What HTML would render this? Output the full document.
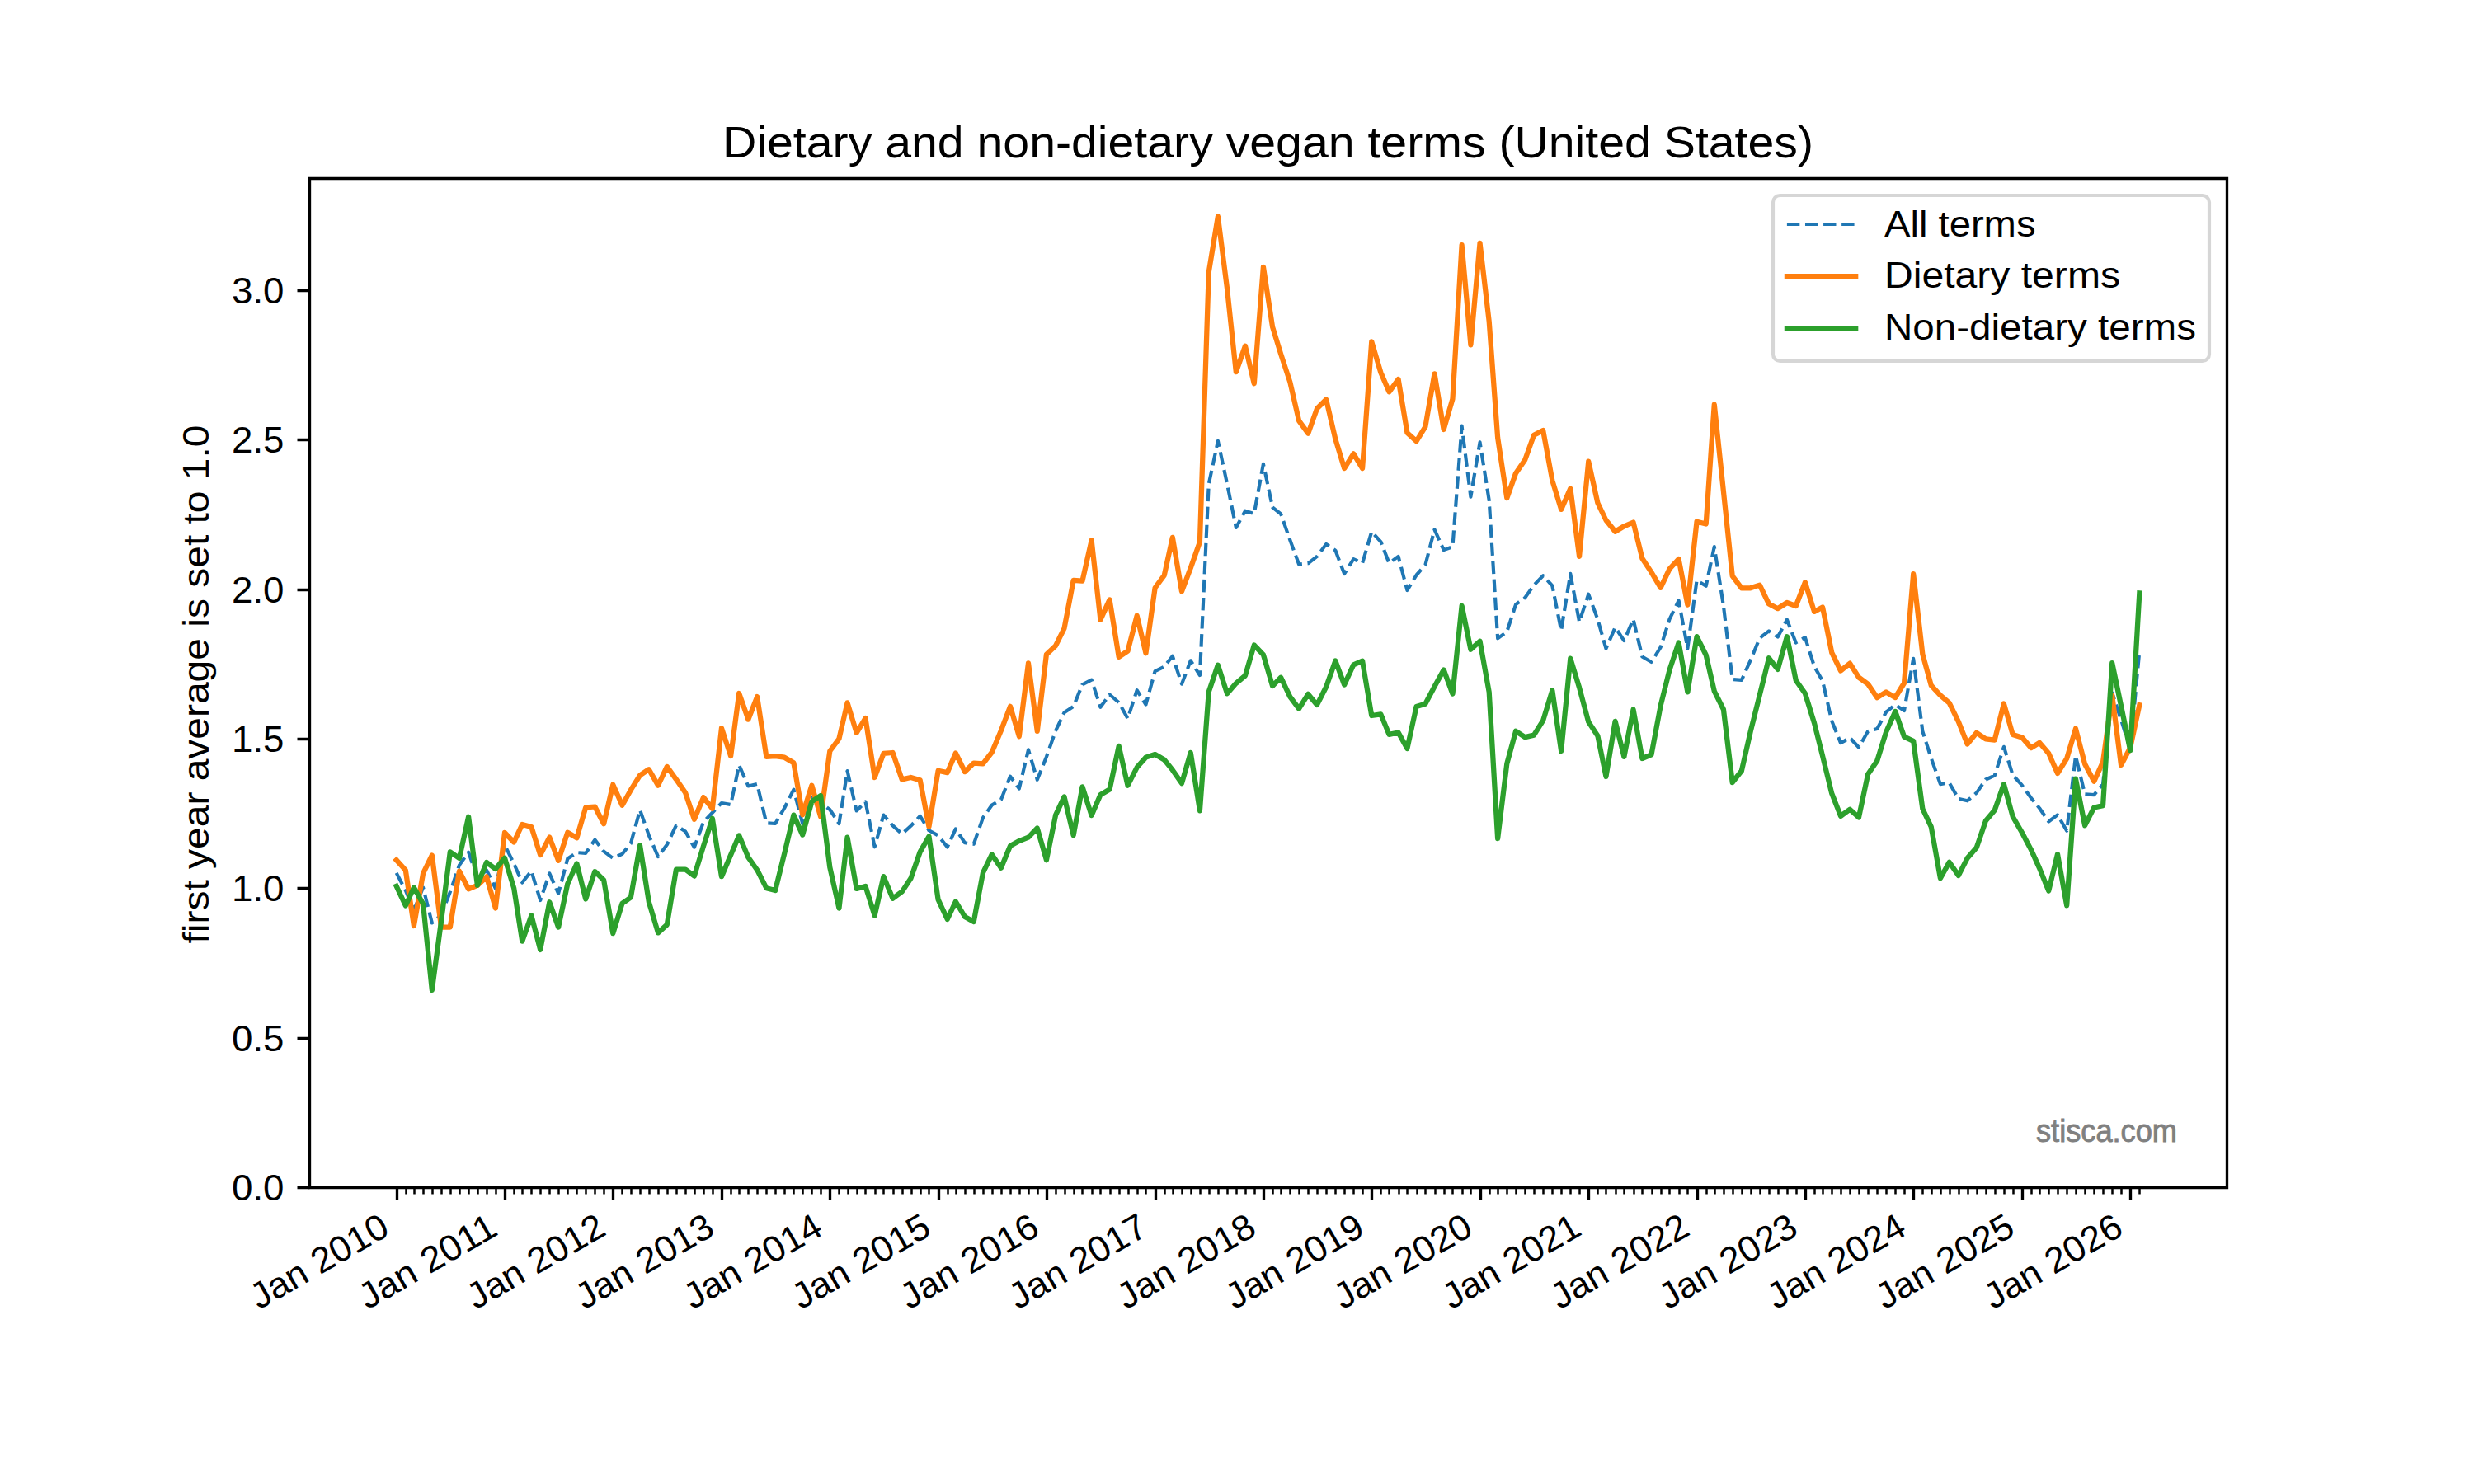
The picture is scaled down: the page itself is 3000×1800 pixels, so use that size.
<!DOCTYPE html>
<html><head><meta charset="utf-8"><title>Dietary and non-dietary vegan terms (United States)</title>
<style>html,body{margin:0;padding:0;background:#fff;}svg{display:block;}text{font-family:"Liberation Sans", sans-serif;}</style></head><body>
<svg width="3000" height="1800" viewBox="0 0 3000 1800">
<rect x="0" y="0" width="3000" height="1800" fill="#fff"/>
<g fill="none" stroke-linejoin="round">
<polyline points="480.68,1058.90 491.83,1080.00 501.91,1104.00 513.06,1076.50 523.85,1119.50 535.01,1110.00 545.80,1082.00 556.95,1049.40 568.11,1033.60 578.90,1065.00 590.05,1055.50 600.84,1077.50 612.00,1025.00 623.15,1047.50 633.22,1070.50 644.38,1056.40 655.17,1092.00 666.32,1059.30 677.12,1083.80 688.27,1041.60 699.42,1034.10 710.21,1034.90 721.37,1018.60 732.16,1032.70 743.31,1041.00 754.47,1035.90 764.90,1023.00 776.05,982.50 786.84,1013.20 798.00,1039.10 808.79,1024.60 819.94,1001.10 831.10,1008.40 841.89,1027.80 853.04,997.10 863.83,985.70 874.99,974.00 886.14,976.00 896.21,928.00 907.37,953.50 918.16,951.00 929.31,998.30 940.11,999.00 951.26,980.00 962.41,957.60 973.20,999.00 984.36,967.00 995.15,974.00 1006.30,982.00 1017.46,999.00 1027.53,935.00 1038.68,983.50 1049.47,972.40 1060.63,1027.30 1071.42,988.60 1082.57,1001.40 1093.73,1011.50 1104.52,1001.80 1115.67,989.80 1126.47,1007.30 1137.62,1013.50 1148.77,1027.50 1158.84,1005.40 1170.00,1022.30 1180.79,1023.80 1191.94,991.90 1202.74,976.50 1213.89,970.00 1225.04,941.60 1235.83,956.50 1246.99,909.40 1257.78,945.80 1268.93,918.00 1280.09,886.30 1290.52,864.30 1301.67,857.00 1312.47,830.30 1323.62,824.60 1334.41,857.80 1345.56,842.50 1356.72,852.00 1367.51,871.60 1378.66,837.20 1389.46,854.60 1400.61,814.00 1411.76,808.60 1421.83,795.70 1432.99,829.70 1443.78,801.30 1454.93,819.10 1465.73,587.40 1476.88,534.80 1488.03,586.90 1498.82,639.90 1509.98,619.70 1520.77,623.00 1531.92,562.70 1543.08,615.30 1553.15,623.40 1564.30,655.00 1575.10,684.50 1586.25,683.30 1597.04,674.90 1608.19,659.90 1619.35,667.60 1630.14,696.00 1641.29,678.10 1652.09,683.00 1663.24,645.00 1674.39,657.10 1684.47,683.00 1695.62,674.90 1706.41,716.00 1717.56,697.50 1728.36,685.30 1739.51,642.30 1750.66,667.10 1761.46,663.10 1772.61,516.70 1783.40,602.70 1794.55,536.40 1805.71,606.90 1816.14,774.40 1827.29,766.30 1838.09,733.10 1849.24,725.00 1860.03,709.70 1871.18,698.30 1882.34,710.50 1893.13,764.70 1904.28,695.90 1915.08,754.30 1926.23,720.70 1937.38,751.20 1947.46,786.80 1958.61,760.90 1969.40,777.10 1980.55,751.20 1991.35,796.50 2002.50,803.00 2013.65,785.20 2024.45,751.20 2035.60,728.50 2046.39,786.50 2057.54,704.00 2068.70,710.80 2078.77,663.10 2089.92,735.00 2100.72,824.10 2111.87,824.90 2122.66,801.00 2133.82,773.90 2144.97,765.40 2155.76,772.60 2166.91,751.60 2177.71,779.50 2188.86,773.10 2200.01,808.20 2210.09,826.00 2221.24,874.50 2232.03,901.20 2243.18,894.80 2253.98,906.50 2265.13,887.00 2276.28,883.90 2287.08,863.70 2298.23,854.80 2309.02,862.10 2320.18,798.90 2331.33,887.00 2341.76,919.60 2352.91,951.10 2363.71,949.50 2374.86,968.90 2385.65,971.30 2396.81,961.60 2407.96,945.50 2418.75,940.60 2429.90,905.80 2440.70,940.00 2451.85,952.40 2463.00,968.00 2473.08,980.30 2484.23,996.50 2495.02,988.40 2506.18,1007.80 2516.97,917.00 2528.12,963.30 2539.27,964.10 2550.07,951.20 2561.22,840.20 2572.01,873.00 2583.17,908.30 2594.32,790.00" stroke="#1f77b4" stroke-width="4.1667" stroke-dasharray="15.417 6.667" stroke-linecap="butt"/>
<polyline points="480.68,1043.20 491.83,1055.50 501.91,1123.00 513.06,1059.40 523.85,1037.50 535.01,1124.50 545.80,1124.50 556.95,1056.60 568.11,1078.30 578.90,1073.90 590.05,1063.40 600.84,1101.50 612.00,1010.00 623.15,1021.50 633.22,1000.00 644.38,1003.00 655.17,1037.10 666.32,1015.60 677.12,1043.80 688.27,1009.70 699.42,1016.30 710.21,979.30 721.37,978.50 732.16,999.30 743.31,951.80 754.47,976.80 764.90,958.20 776.05,940.40 786.84,933.20 798.00,952.60 808.79,929.90 819.94,945.30 831.10,961.50 841.89,993.80 853.04,967.10 863.83,980.90 874.99,883.10 886.14,917.10 896.21,841.00 907.37,872.60 918.16,845.10 929.31,917.90 940.11,917.10 951.26,918.70 962.41,925.20 973.20,988.30 984.36,952.70 995.15,990.70 1006.30,911.00 1017.46,896.00 1027.53,852.40 1038.68,888.80 1049.47,871.00 1060.63,943.00 1071.42,913.80 1082.57,913.00 1093.73,945.40 1104.52,943.00 1115.67,946.20 1126.47,1002.80 1137.62,934.70 1148.77,937.10 1158.84,913.50 1170.00,936.10 1180.79,925.60 1191.94,926.40 1202.74,912.50 1213.89,886.10 1225.04,856.80 1235.83,893.20 1246.99,804.30 1257.78,886.80 1268.93,793.70 1280.09,783.20 1290.52,762.10 1301.67,703.90 1312.47,704.70 1323.62,655.40 1334.41,751.60 1345.56,727.40 1356.72,796.90 1367.51,789.70 1378.66,746.80 1389.46,792.30 1400.61,713.00 1411.76,697.90 1421.83,651.80 1432.99,717.30 1443.78,688.90 1454.93,657.40 1465.73,330.60 1476.88,262.60 1488.03,350.00 1498.82,451.10 1509.98,419.60 1520.77,465.30 1531.92,323.80 1543.08,396.60 1553.15,429.40 1564.30,463.40 1575.10,510.30 1586.25,525.70 1597.04,495.50 1608.19,484.60 1619.35,532.70 1630.14,568.10 1641.29,550.30 1652.09,568.10 1663.24,414.40 1674.39,452.00 1684.47,475.30 1695.62,460.00 1706.41,525.00 1717.56,535.10 1728.36,517.70 1739.51,453.30 1750.66,521.00 1761.46,483.80 1772.61,297.20 1783.40,418.30 1794.55,294.80 1805.71,390.00 1816.14,531.00 1827.29,604.10 1838.09,573.90 1849.24,557.70 1860.03,527.80 1871.18,522.10 1882.34,582.80 1893.13,617.90 1904.28,592.50 1915.08,674.80 1926.23,559.70 1937.38,610.00 1947.46,631.00 1958.61,644.80 1969.40,638.30 1980.55,633.50 1991.35,677.20 2002.50,694.10 2013.65,712.80 2024.45,690.10 2035.60,678.00 2046.39,733.60 2057.54,632.70 2068.70,635.50 2078.77,490.70 2089.92,596.00 2100.72,698.70 2111.87,713.30 2122.66,713.30 2133.82,709.60 2144.97,732.60 2155.76,738.20 2166.91,731.00 2177.71,735.00 2188.86,706.30 2200.01,741.90 2210.09,736.60 2221.24,791.60 2232.03,813.50 2243.18,804.60 2253.98,821.60 2265.13,829.70 2276.28,846.20 2287.08,839.40 2298.23,846.00 2309.02,828.50 2320.18,696.20 2331.33,793.30 2341.76,831.30 2352.91,843.40 2363.71,852.70 2374.86,875.40 2385.65,902.50 2396.81,888.70 2407.96,896.40 2418.75,897.60 2429.90,853.50 2440.70,891.00 2451.85,894.40 2463.00,907.10 2473.08,900.80 2484.23,913.70 2495.02,938.00 2506.18,920.20 2516.97,883.80 2528.12,926.70 2539.27,947.80 2550.07,924.10 2561.22,843.70 2572.01,928.00 2583.17,907.00 2594.32,855.10" stroke="#ff7f0e" stroke-width="6.25" stroke-linecap="square"/>
<polyline points="480.68,1074.80 491.83,1098.50 501.91,1076.50 513.06,1096.20 523.85,1200.90 535.01,1117.40 545.80,1033.30 556.95,1041.00 568.11,990.70 578.90,1073.90 590.05,1045.90 600.84,1054.00 612.00,1040.70 623.15,1077.10 633.22,1141.60 644.38,1110.50 655.17,1152.00 666.32,1094.20 677.12,1124.60 688.27,1072.00 699.42,1047.50 710.21,1090.50 721.37,1057.10 732.16,1067.50 743.31,1132.10 754.47,1095.80 764.90,1088.50 776.05,1025.40 786.84,1094.10 798.00,1131.40 808.79,1121.60 819.94,1054.50 831.10,1054.50 841.89,1062.60 853.04,1026.20 863.83,992.80 874.99,1063.20 886.14,1037.00 896.21,1013.40 907.37,1040.00 918.16,1055.20 929.31,1077.20 940.11,1080.10 951.26,1035.00 962.41,988.60 973.20,1012.60 984.36,972.40 995.15,965.00 1006.30,1052.00 1017.46,1101.60 1027.53,1015.70 1038.68,1077.90 1049.47,1074.90 1060.63,1110.50 1071.42,1063.10 1082.57,1089.80 1093.73,1081.60 1104.52,1065.30 1115.67,1033.40 1126.47,1014.50 1137.62,1091.20 1148.77,1115.00 1158.84,1093.50 1170.00,1112.00 1180.79,1117.90 1191.94,1058.60 1202.74,1036.40 1213.89,1052.70 1225.04,1026.00 1235.83,1020.10 1246.99,1015.60 1257.78,1004.50 1268.93,1043.20 1280.09,988.60 1290.52,966.40 1301.67,1013.30 1312.47,954.30 1323.62,989.10 1334.41,964.00 1345.56,957.50 1356.72,904.90 1367.51,952.70 1378.66,930.80 1389.46,918.60 1400.61,915.00 1411.76,921.50 1421.83,933.90 1432.99,950.10 1443.78,912.90 1454.93,983.30 1465.73,839.30 1476.88,806.60 1488.03,841.30 1498.82,828.80 1509.98,819.50 1520.77,782.50 1531.92,794.10 1543.08,832.10 1553.15,821.70 1564.30,845.20 1575.10,859.70 1586.25,841.90 1597.04,854.90 1608.19,833.00 1619.35,801.50 1630.14,830.60 1641.29,806.30 1652.09,801.70 1663.24,868.00 1674.39,866.40 1684.47,890.90 1695.62,888.50 1706.41,907.90 1717.56,856.90 1728.36,853.70 1739.51,832.70 1750.66,812.40 1761.46,841.60 1772.61,734.80 1783.40,787.80 1794.55,777.70 1805.71,839.50 1816.14,1017.00 1827.29,926.40 1838.09,886.80 1849.24,894.10 1860.03,891.60 1871.18,873.80 1882.34,837.40 1893.13,911.00 1904.28,798.60 1915.08,834.00 1926.23,875.60 1937.38,892.50 1947.46,942.00 1958.61,874.80 1969.40,917.90 1980.55,860.50 1991.35,920.00 2002.50,915.40 2013.65,856.00 2024.45,812.70 2035.60,779.50 2046.39,839.40 2057.54,772.20 2068.70,794.50 2078.77,838.30 2089.92,860.50 2100.72,949.00 2111.87,935.00 2122.66,887.50 2133.82,843.00 2144.97,798.20 2155.76,811.90 2166.91,772.20 2177.71,825.20 2188.86,841.00 2200.01,877.00 2210.09,917.10 2221.24,962.40 2232.03,989.90 2243.18,981.80 2253.98,991.50 2265.13,938.90 2276.28,922.70 2287.08,888.00 2298.23,862.90 2309.02,893.60 2320.18,898.90 2331.33,981.00 2341.76,1002.90 2352.91,1065.20 2363.71,1045.80 2374.86,1061.90 2385.65,1040.90 2396.81,1028.00 2407.96,995.60 2418.75,982.70 2429.90,951.10 2440.70,990.50 2451.85,1009.80 2463.00,1030.90 2473.08,1053.10 2484.23,1080.60 2495.02,1036.10 2506.18,1098.40 2516.97,944.70 2528.12,1001.30 2539.27,979.50 2550.07,977.10 2561.22,804.20 2572.01,856.00 2583.17,910.20 2594.32,719.40" stroke="#2ca02c" stroke-width="6.25" stroke-linecap="square"/>
</g>
<g stroke="#000" stroke-width="3.3333" fill="none" stroke-linecap="square">
<path d="M375.5,216.5 V1440.5 M2700.5,216.5 V1440.5 M375.5,216.5 H2700.5 M375.5,1440.5 H2700.5"/>
</g>
<path d="M481.5,1440.5 V1455.5 M612.5,1440.5 V1455.5 M743.5,1440.5 V1455.5 M875.5,1440.5 V1455.5 M1006.5,1440.5 V1455.5 M1138.5,1440.5 V1455.5 M1269.5,1440.5 V1455.5 M1401.5,1440.5 V1455.5 M1532.5,1440.5 V1455.5 M1663.5,1440.5 V1455.5 M1795.5,1440.5 V1455.5 M1926.5,1440.5 V1455.5 M2058.5,1440.5 V1455.5 M2189.5,1440.5 V1455.5 M2320.5,1440.5 V1455.5 M2452.5,1440.5 V1455.5 M2583.5,1440.5 V1455.5" stroke="#000" stroke-width="3.3333" fill="none"/>
<path d="M492.5,1440.5 V1448.5 M502.5,1440.5 V1448.5 M513.5,1440.5 V1448.5 M524.5,1440.5 V1448.5 M535.5,1440.5 V1448.5 M546.5,1440.5 V1448.5 M557.5,1440.5 V1448.5 M568.5,1440.5 V1448.5 M579.5,1440.5 V1448.5 M590.5,1440.5 V1448.5 M601.5,1440.5 V1448.5 M623.5,1440.5 V1448.5 M633.5,1440.5 V1448.5 M644.5,1440.5 V1448.5 M655.5,1440.5 V1448.5 M666.5,1440.5 V1448.5 M677.5,1440.5 V1448.5 M688.5,1440.5 V1448.5 M699.5,1440.5 V1448.5 M710.5,1440.5 V1448.5 M721.5,1440.5 V1448.5 M732.5,1440.5 V1448.5 M754.5,1440.5 V1448.5 M765.5,1440.5 V1448.5 M776.5,1440.5 V1448.5 M787.5,1440.5 V1448.5 M798.5,1440.5 V1448.5 M809.5,1440.5 V1448.5 M820.5,1440.5 V1448.5 M831.5,1440.5 V1448.5 M842.5,1440.5 V1448.5 M853.5,1440.5 V1448.5 M864.5,1440.5 V1448.5 M886.5,1440.5 V1448.5 M896.5,1440.5 V1448.5 M907.5,1440.5 V1448.5 M918.5,1440.5 V1448.5 M929.5,1440.5 V1448.5 M940.5,1440.5 V1448.5 M951.5,1440.5 V1448.5 M962.5,1440.5 V1448.5 M973.5,1440.5 V1448.5 M984.5,1440.5 V1448.5 M995.5,1440.5 V1448.5 M1017.5,1440.5 V1448.5 M1028.5,1440.5 V1448.5 M1039.5,1440.5 V1448.5 M1049.5,1440.5 V1448.5 M1061.5,1440.5 V1448.5 M1071.5,1440.5 V1448.5 M1083.5,1440.5 V1448.5 M1094.5,1440.5 V1448.5 M1105.5,1440.5 V1448.5 M1116.5,1440.5 V1448.5 M1126.5,1440.5 V1448.5 M1149.5,1440.5 V1448.5 M1159.5,1440.5 V1448.5 M1170.5,1440.5 V1448.5 M1181.5,1440.5 V1448.5 M1192.5,1440.5 V1448.5 M1203.5,1440.5 V1448.5 M1214.5,1440.5 V1448.5 M1225.5,1440.5 V1448.5 M1236.5,1440.5 V1448.5 M1247.5,1440.5 V1448.5 M1258.5,1440.5 V1448.5 M1280.5,1440.5 V1448.5 M1291.5,1440.5 V1448.5 M1302.5,1440.5 V1448.5 M1312.5,1440.5 V1448.5 M1324.5,1440.5 V1448.5 M1334.5,1440.5 V1448.5 M1346.5,1440.5 V1448.5 M1357.5,1440.5 V1448.5 M1368.5,1440.5 V1448.5 M1379.5,1440.5 V1448.5 M1389.5,1440.5 V1448.5 M1412.5,1440.5 V1448.5 M1422.5,1440.5 V1448.5 M1433.5,1440.5 V1448.5 M1444.5,1440.5 V1448.5 M1455.5,1440.5 V1448.5 M1466.5,1440.5 V1448.5 M1477.5,1440.5 V1448.5 M1488.5,1440.5 V1448.5 M1499.5,1440.5 V1448.5 M1510.5,1440.5 V1448.5 M1521.5,1440.5 V1448.5 M1543.5,1440.5 V1448.5 M1553.5,1440.5 V1448.5 M1564.5,1440.5 V1448.5 M1575.5,1440.5 V1448.5 M1586.5,1440.5 V1448.5 M1597.5,1440.5 V1448.5 M1608.5,1440.5 V1448.5 M1619.5,1440.5 V1448.5 M1630.5,1440.5 V1448.5 M1641.5,1440.5 V1448.5 M1652.5,1440.5 V1448.5 M1674.5,1440.5 V1448.5 M1684.5,1440.5 V1448.5 M1696.5,1440.5 V1448.5 M1706.5,1440.5 V1448.5 M1718.5,1440.5 V1448.5 M1728.5,1440.5 V1448.5 M1740.5,1440.5 V1448.5 M1751.5,1440.5 V1448.5 M1761.5,1440.5 V1448.5 M1773.5,1440.5 V1448.5 M1783.5,1440.5 V1448.5 M1806.5,1440.5 V1448.5 M1816.5,1440.5 V1448.5 M1827.5,1440.5 V1448.5 M1838.5,1440.5 V1448.5 M1849.5,1440.5 V1448.5 M1860.5,1440.5 V1448.5 M1871.5,1440.5 V1448.5 M1882.5,1440.5 V1448.5 M1893.5,1440.5 V1448.5 M1904.5,1440.5 V1448.5 M1915.5,1440.5 V1448.5 M1937.5,1440.5 V1448.5 M1947.5,1440.5 V1448.5 M1959.5,1440.5 V1448.5 M1969.5,1440.5 V1448.5 M1981.5,1440.5 V1448.5 M1991.5,1440.5 V1448.5 M2003.5,1440.5 V1448.5 M2014.5,1440.5 V1448.5 M2024.5,1440.5 V1448.5 M2036.5,1440.5 V1448.5 M2046.5,1440.5 V1448.5 M2069.5,1440.5 V1448.5 M2079.5,1440.5 V1448.5 M2090.5,1440.5 V1448.5 M2101.5,1440.5 V1448.5 M2112.5,1440.5 V1448.5 M2123.5,1440.5 V1448.5 M2134.5,1440.5 V1448.5 M2145.5,1440.5 V1448.5 M2156.5,1440.5 V1448.5 M2167.5,1440.5 V1448.5 M2178.5,1440.5 V1448.5 M2200.5,1440.5 V1448.5 M2210.5,1440.5 V1448.5 M2221.5,1440.5 V1448.5 M2232.5,1440.5 V1448.5 M2243.5,1440.5 V1448.5 M2254.5,1440.5 V1448.5 M2265.5,1440.5 V1448.5 M2276.5,1440.5 V1448.5 M2287.5,1440.5 V1448.5 M2298.5,1440.5 V1448.5 M2309.5,1440.5 V1448.5 M2331.5,1440.5 V1448.5 M2342.5,1440.5 V1448.5 M2353.5,1440.5 V1448.5 M2364.5,1440.5 V1448.5 M2375.5,1440.5 V1448.5 M2386.5,1440.5 V1448.5 M2397.5,1440.5 V1448.5 M2408.5,1440.5 V1448.5 M2419.5,1440.5 V1448.5 M2430.5,1440.5 V1448.5 M2441.5,1440.5 V1448.5 M2463.5,1440.5 V1448.5 M2473.5,1440.5 V1448.5 M2484.5,1440.5 V1448.5 M2495.5,1440.5 V1448.5 M2506.5,1440.5 V1448.5 M2517.5,1440.5 V1448.5 M2528.5,1440.5 V1448.5 M2539.5,1440.5 V1448.5 M2550.5,1440.5 V1448.5 M2561.5,1440.5 V1448.5 M2572.5,1440.5 V1448.5 M2594.5,1440.5 V1448.5" stroke="#000" stroke-width="2.5" fill="none"/>
<path d="M360.5,1440.5 H375.5 M360.5,1259.5 H375.5 M360.5,1077.5 H375.5 M360.5,896.5 H375.5 M360.5,715.5 H375.5 M360.5,533.5 H375.5 M360.5,352.5 H375.5" stroke="#000" stroke-width="3.3333" fill="none"/>
<g font-size="44.00" fill="#000" text-anchor="end" lengthAdjust="spacingAndGlyphs">
<text x="344.5" y="1456.00" textLength="63.5" lengthAdjust="spacingAndGlyphs">0.0</text>
<text x="344.5" y="1274.69" textLength="63.5" lengthAdjust="spacingAndGlyphs">0.5</text>
<text x="344.5" y="1093.38" textLength="63.5" lengthAdjust="spacingAndGlyphs">1.0</text>
<text x="344.5" y="912.06" textLength="63.5" lengthAdjust="spacingAndGlyphs">1.5</text>
<text x="344.5" y="730.75" textLength="63.5" lengthAdjust="spacingAndGlyphs">2.0</text>
<text x="344.5" y="549.44" textLength="63.5" lengthAdjust="spacingAndGlyphs">2.5</text>
<text x="344.5" y="368.13" textLength="63.5" lengthAdjust="spacingAndGlyphs">3.0</text>
</g>
<g font-size="44.00" fill="#000" text-anchor="end">
<text transform="translate(474.58,1496.60) rotate(-30)" textLength="185" lengthAdjust="spacingAndGlyphs">Jan 2010</text>
<text transform="translate(605.90,1496.60) rotate(-30)" textLength="185" lengthAdjust="spacingAndGlyphs">Jan 2011</text>
<text transform="translate(737.21,1496.60) rotate(-30)" textLength="185" lengthAdjust="spacingAndGlyphs">Jan 2012</text>
<text transform="translate(868.89,1496.60) rotate(-30)" textLength="185" lengthAdjust="spacingAndGlyphs">Jan 2013</text>
<text transform="translate(1000.20,1496.60) rotate(-30)" textLength="185" lengthAdjust="spacingAndGlyphs">Jan 2014</text>
<text transform="translate(1131.52,1496.60) rotate(-30)" textLength="185" lengthAdjust="spacingAndGlyphs">Jan 2015</text>
<text transform="translate(1262.83,1496.60) rotate(-30)" textLength="185" lengthAdjust="spacingAndGlyphs">Jan 2016</text>
<text transform="translate(1394.51,1496.60) rotate(-30)" textLength="185" lengthAdjust="spacingAndGlyphs">Jan 2017</text>
<text transform="translate(1525.82,1496.60) rotate(-30)" textLength="185" lengthAdjust="spacingAndGlyphs">Jan 2018</text>
<text transform="translate(1657.14,1496.60) rotate(-30)" textLength="185" lengthAdjust="spacingAndGlyphs">Jan 2019</text>
<text transform="translate(1788.45,1496.60) rotate(-30)" textLength="185" lengthAdjust="spacingAndGlyphs">Jan 2020</text>
<text transform="translate(1920.13,1496.60) rotate(-30)" textLength="185" lengthAdjust="spacingAndGlyphs">Jan 2021</text>
<text transform="translate(2051.44,1496.60) rotate(-30)" textLength="185" lengthAdjust="spacingAndGlyphs">Jan 2022</text>
<text transform="translate(2182.76,1496.60) rotate(-30)" textLength="185" lengthAdjust="spacingAndGlyphs">Jan 2023</text>
<text transform="translate(2314.08,1496.60) rotate(-30)" textLength="185" lengthAdjust="spacingAndGlyphs">Jan 2024</text>
<text transform="translate(2445.75,1496.60) rotate(-30)" textLength="185" lengthAdjust="spacingAndGlyphs">Jan 2025</text>
<text transform="translate(2577.07,1496.60) rotate(-30)" textLength="185" lengthAdjust="spacingAndGlyphs">Jan 2026</text>
</g>
<text transform="translate(252.8,830) rotate(-90)" font-size="44.00" text-anchor="middle" textLength="629" lengthAdjust="spacingAndGlyphs" fill="#000">first year average is set to 1.0</text>
<text x="1537.5" y="190.8" font-size="52.8" text-anchor="middle" textLength="1323" lengthAdjust="spacingAndGlyphs" fill="#000">Dietary and non-dietary vegan terms (United States)</text>
<rect x="2150" y="237" width="529" height="201" rx="8.33" ry="8.33" fill="#fff" fill-opacity="0.8" stroke="#ccc" stroke-opacity="0.8" stroke-width="4.1667"/>
<line x1="2166.9" y1="272" x2="2250.2" y2="272" stroke="#1f77b4" stroke-width="4.1667" stroke-dasharray="15.417 6.667"/>
<line x1="2166.9" y1="335" x2="2250.2" y2="335" stroke="#ff7f0e" stroke-width="6.25" stroke-linecap="square"/>
<line x1="2166.9" y1="398" x2="2250.2" y2="398" stroke="#2ca02c" stroke-width="6.25" stroke-linecap="square"/>
<g font-size="44.00" fill="#000">
<text x="2285" y="287.2" textLength="183.5" lengthAdjust="spacingAndGlyphs">All terms</text>
<text x="2285" y="349.4" textLength="286" lengthAdjust="spacingAndGlyphs">Dietary terms</text>
<text x="2285" y="412.1" textLength="378" lengthAdjust="spacingAndGlyphs">Non-dietary terms</text>
</g>
<text x="2469" y="1385.1" font-size="38.5" fill="#808080" stroke="#808080" stroke-width="0.9" textLength="171" lengthAdjust="spacingAndGlyphs">stisca.com</text>
</svg></body></html>
